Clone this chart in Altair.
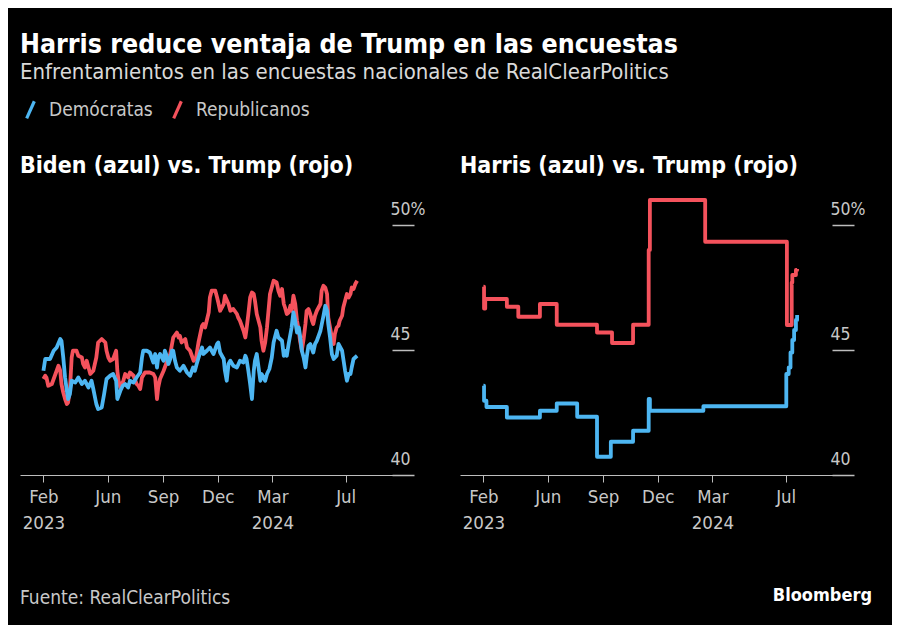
import altair as alt
import pandas as pd

FONT = "'DejaVu Sans Condensed', 'Liberation Sans Narrow', 'Roboto Condensed', sans-serif"
BLUE = "#4db6f2"
RED = "#f4525c"
TXT = "#c8c8c8"

title_text = "Harris reduce ventaja de Trump en las encuestas"
subtitle_text = "Enfrentamientos en las encuestas nacionales de RealClearPolitics"
panel_titles = ["Biden (azul) vs. Trump (rojo)", "Harris (azul) vs. Trump (rojo)"]
parties = ["Demócratas", "Republicanos"]
source_text = "Fuente: RealClearPolitics"
brand_text = "Bloomberg"

# ---- Biden vs Trump (RCP average) ----
biden_dates = ["2023-02-14", "2023-02-17", "2023-02-25", "2023-03-03", "2023-03-08", "2023-03-14", "2023-03-16",
               "2023-03-19", "2023-03-22", "2023-03-25", "2023-03-27", "2023-03-30", "2023-04-02", "2023-04-08",
               "2023-04-13", "2023-04-19", "2023-04-24", "2023-04-30", "2023-05-05", "2023-05-08", "2023-05-13",
               "2023-05-16", "2023-05-22", "2023-05-26", "2023-05-30", "2023-06-05", "2023-06-10", "2023-06-15",
               "2023-06-17", "2023-06-22", "2023-06-26", "2023-06-30", "2023-07-05", "2023-07-08", "2023-07-14",
               "2023-07-19", "2023-07-25", "2023-07-28", "2023-07-30", "2023-08-05", "2023-08-10", "2023-08-16",
               "2023-08-19", "2023-08-22", "2023-08-24", "2023-08-27", "2023-09-02", "2023-09-04", "2023-09-07",
               "2023-09-10", "2023-09-13", "2023-09-16", "2023-09-18", "2023-09-21", "2023-09-24", "2023-09-29",
               "2023-10-05", "2023-10-11", "2023-10-16", "2023-10-21", "2023-10-24", "2023-10-27", "2023-11-01",
               "2023-11-05", "2023-11-07", "2023-11-13", "2023-11-18", "2023-11-24", "2023-11-30", "2023-12-02",
               "2023-12-05", "2023-12-11", "2023-12-13", "2023-12-16", "2023-12-19", "2023-12-22", "2023-12-27",
               "2024-01-02", "2024-01-07", "2024-01-13", "2024-01-16", "2024-01-18", "2024-01-21", "2024-01-24",
               "2024-01-27", "2024-01-30", "2024-02-01", "2024-02-04", "2024-02-07", "2024-02-10", "2024-02-12",
               "2024-02-18", "2024-02-21", "2024-02-25", "2024-02-29", "2024-03-03", "2024-03-08", "2024-03-11",
               "2024-03-17", "2024-03-20", "2024-03-22", "2024-03-25", "2024-03-28", "2024-03-31", "2024-04-02",
               "2024-04-05", "2024-04-08", "2024-04-11", "2024-04-14", "2024-04-16", "2024-04-19", "2024-04-22",
               "2024-04-25", "2024-04-27", "2024-04-30", "2024-05-03", "2024-05-08", "2024-05-11", "2024-05-14",
               "2024-05-20", "2024-05-25", "2024-05-28", "2024-05-31", "2024-06-02", "2024-06-05", "2024-06-08",
               "2024-06-11", "2024-06-16", "2024-06-19", "2024-06-25", "2024-06-30", "2024-07-03", "2024-07-06",
               "2024-07-09", "2024-07-11", "2024-07-14", "2024-07-20"]
biden_values = [44.17, 44.64, 44.64, 44.97, 45.10, 45.44, 45.37, 44.70, 43.90, 43.37, 43.04, 43.24, 43.77, 43.70,
                43.90, 43.64, 43.77, 43.50, 43.77, 43.44, 42.84, 42.64, 42.70, 43.24, 43.84, 43.97, 44.04, 43.77,
                43.04, 43.37, 43.57, 43.64, 43.50, 43.77, 43.70, 43.90, 44.10, 44.70, 44.97, 44.97, 44.90, 44.50,
                44.84, 44.30, 44.70, 44.84, 44.57, 44.97, 44.77, 44.44, 44.64, 44.97, 44.97, 44.57, 44.30, 44.17,
                44.37, 44.10, 43.97, 44.30, 44.17, 44.44, 44.84, 45.10, 44.84, 44.97, 45.10, 44.84, 45.24, 45.30,
                44.90, 44.64, 44.17, 43.77, 44.44, 44.57, 44.37, 44.30, 44.57, 44.50, 44.77, 44.64, 44.17, 43.64,
                43.04, 44.17, 44.57, 44.84, 44.30, 43.77, 44.04, 43.77, 44.04, 44.24, 44.70, 45.30, 45.77, 45.50,
                45.37, 44.77, 44.97, 44.77, 45.24, 45.64, 45.90, 46.50, 46.17, 45.70, 45.90, 45.57, 44.97, 44.70,
                44.30, 44.70, 45.17, 45.24, 44.90, 45.24, 45.37, 45.77, 46.37, 46.77, 46.57, 46.04, 45.50, 44.84,
                44.64, 44.77, 45.24, 44.97, 44.17, 43.77, 44.04, 44.04, 44.30, 44.64, 44.77]

trump_b_dates = ["2023-02-14", "2023-02-17", "2023-02-19", "2023-02-22", "2023-02-28", "2023-03-03", "2023-03-08",
                 "2023-03-11", "2023-03-14", "2023-03-16", "2023-03-19", "2023-03-22", "2023-03-25", "2023-03-27",
                 "2023-03-30", "2023-04-02", "2023-04-04", "2023-04-10", "2023-04-13", "2023-04-19", "2023-04-21",
                 "2023-04-24", "2023-04-27", "2023-04-30", "2023-05-03", "2023-05-08", "2023-05-13", "2023-05-16",
                 "2023-05-22", "2023-05-28", "2023-05-30", "2023-06-02", "2023-06-05", "2023-06-10", "2023-06-15",
                 "2023-06-17", "2023-06-19", "2023-06-22", "2023-06-27", "2023-06-30", "2023-07-05", "2023-07-08",
                 "2023-07-14", "2023-07-19", "2023-07-22", "2023-07-25", "2023-07-28", "2023-08-02", "2023-08-10",
                 "2023-08-16", "2023-08-19", "2023-08-22", "2023-08-24", "2023-08-27", "2023-09-02", "2023-09-07",
                 "2023-09-13", "2023-09-16", "2023-09-18", "2023-09-24", "2023-09-27", "2023-09-29", "2023-10-02",
                 "2023-10-08", "2023-10-11", "2023-10-16", "2023-10-22", "2023-10-26", "2023-10-30", "2023-11-02",
                 "2023-11-05", "2023-11-07", "2023-11-10", "2023-11-16", "2023-11-18", "2023-11-21", "2023-11-27",
                 "2023-11-30", "2023-12-02", "2023-12-05", "2023-12-11", "2023-12-13", "2023-12-19", "2023-12-22",
                 "2023-12-27", "2024-01-02", "2024-01-04", "2024-01-07", "2024-01-13", "2024-01-16", "2024-01-18",
                 "2024-01-21", "2024-01-24", "2024-01-27", "2024-01-30", "2024-02-01", "2024-02-04", "2024-02-10",
                 "2024-02-12", "2024-02-15", "2024-02-18", "2024-02-21", "2024-02-24", "2024-02-26", "2024-02-29",
                 "2024-03-03", "2024-03-08", "2024-03-11", "2024-03-14", "2024-03-17", "2024-03-20", "2024-03-22",
                 "2024-03-25", "2024-03-28", "2024-03-31", "2024-04-02", "2024-04-05", "2024-04-08", "2024-04-11",
                 "2024-04-14", "2024-04-16", "2024-04-19", "2024-04-22", "2024-04-25", "2024-04-27", "2024-04-30",
                 "2024-05-03", "2024-05-06", "2024-05-08", "2024-05-11", "2024-05-14", "2024-05-20", "2024-05-22",
                 "2024-05-25", "2024-05-28", "2024-05-31", "2024-06-02", "2024-06-05", "2024-06-08", "2024-06-11",
                 "2024-06-13", "2024-06-16", "2024-06-19", "2024-06-21", "2024-06-25", "2024-06-27", "2024-06-30",
                 "2024-07-03", "2024-07-06", "2024-07-09", "2024-07-11", "2024-07-14", "2024-07-17", "2024-07-20"]
trump_b_values = [43.84, 43.97, 43.90, 43.57, 43.64, 43.84, 44.17, 44.37, 44.17, 43.64, 43.30, 43.04, 42.84, 42.90,
                  43.37, 44.70, 44.97, 44.97, 44.77, 44.70, 44.44, 44.30, 44.57, 44.30, 44.04, 44.17, 44.70, 45.30,
                  45.44, 45.30, 44.97, 44.70, 44.57, 44.64, 44.97, 44.17, 43.77, 43.50, 43.77, 44.04, 43.90, 44.10,
                  43.97, 43.64, 43.57, 43.44, 43.90, 44.10, 44.10, 44.04, 43.90, 43.04, 43.50, 43.84, 44.17, 44.50,
                  44.84, 45.24, 45.50, 45.70, 45.50, 45.57, 45.30, 45.44, 45.10, 44.97, 44.57, 44.70, 45.30, 45.64,
                  45.97, 46.04, 45.90, 46.50, 47.10, 47.37, 47.37, 47.10, 46.90, 46.57, 46.84, 47.17, 46.84, 46.57,
                  46.64, 46.44, 46.30, 46.17, 45.77, 45.50, 45.84, 46.44, 47.10, 47.30, 47.24, 46.97, 46.44, 45.90,
                  45.37, 44.97, 45.30, 45.90, 46.70, 47.24, 47.50, 47.77, 47.70, 47.37, 47.17, 47.44, 46.84, 46.70,
                  46.44, 46.50, 46.77, 46.57, 47.17, 46.84, 46.17, 45.77, 45.37, 44.97, 45.44, 46.04, 46.57, 46.64,
                  46.44, 46.17, 46.04, 46.37, 46.57, 46.84, 47.37, 47.57, 47.50, 47.24, 46.30, 45.90, 45.50, 45.24,
                  45.64, 45.90, 45.97, 46.17, 46.37, 46.70, 46.97, 47.24, 47.10, 47.24, 47.50, 47.44, 47.64, 47.77]

# ---- Harris vs Trump (step series) ----
harris_dates = ["2023-02-14", "2023-02-15", "2023-02-19", "2023-03-25", "2023-05-19", "2023-06-16", "2023-07-20",
                "2023-08-22", "2023-09-14", "2023-10-21", "2023-11-16", "2023-11-18", "2024-02-15", "2024-07-02",
                "2024-07-06", "2024-07-09", "2024-07-12", "2024-07-15", "2024-07-18", "2024-07-20"]
harris_values = [43.57, 42.97, 42.72, 42.30, 42.57, 42.86, 42.33, 40.73, 41.33, 41.77, 43.04, 42.57, 42.75, 44.04,
                 44.30, 44.90, 45.40, 45.80, 46.20, 46.40]
trump_h_dates = ["2023-02-14", "2023-02-15", "2023-02-17", "2023-03-25", "2023-04-13", "2023-05-19", "2023-06-16",
                 "2023-08-22", "2023-09-16", "2023-10-21", "2023-11-16", "2023-11-18", "2024-02-18", "2024-07-03",
                 "2024-07-11", "2024-07-12", "2024-07-18", "2024-07-20"]
trump_h_values = [47.53, 46.66, 47.04, 46.73, 46.33, 46.84, 46.01, 45.70, 45.28, 46.01, 49.00, 51.00, 49.33, 46.00,
                  47.70, 48.00, 48.20, 48.24]

x_start = alt.DateTime(year=2023, month=1, date=6, utc=True)
x_end = alt.DateTime(year=2024, month=10, date=21, utc=True)
x_ticks = [alt.DateTime(year=2023, month=2, date=14, utc=True),
           alt.DateTime(year=2023, month=6, date=1, utc=True),
           alt.DateTime(year=2023, month=9, date=1, utc=True),
           alt.DateTime(year=2023, month=12, date=1, utc=True),
           alt.DateTime(year=2024, month=3, date=1, utc=True),
           alt.DateTime(year=2024, month=7, date=1, utc=True)]
y_ticks = [40, 45, 50]

W, H = 393, 285

def frame(dates, values, party):
    return pd.DataFrame({"fecha": dates, "valor": values, "partido": party})

x_enc = alt.X("fecha:T",
              scale=alt.Scale(type="utc", domain=[x_start, x_end], nice=False),
              axis=alt.Axis(values=x_ticks, title=None, grid=False,
                            labelExpr="(utcmonth(datum.value) == 1 || utcmonth(datum.value) == 2) ? "
                                      "[utcFormat(datum.value, '%b'), utcFormat(datum.value, '%Y')] : "
                                      "utcFormat(datum.value, '%b')",
                            domainColor="#bdbdbd", tickColor="#bdbdbd", tickSize=7,
                            labelColor=TXT, labelFontSize=18.5, labelPadding=5,
                            labelFlush=False, labelLineHeight=26, labelFont=FONT))
y_enc = alt.Y("valor:Q",
              scale=alt.Scale(domain=[40, 51.4], nice=False, zero=False),
              axis=alt.Axis(orient="right", values=y_ticks, title=None, grid=False, domain=False,
                            offset=-21, tickSize=22, tickColor="#bdbdbd", tickWidth=1.5,
                            labelAlign="left", labelPadding=-24, labelBaseline="alphabetic",
                            labelOffset=-11, labelColor=TXT, labelFontSize=17.5, labelFont=FONT,
                            labelExpr="datum.value == 50 ? '50%' : datum.label"))
color_enc = alt.Color("partido:N",
                      scale=alt.Scale(domain=parties, range=[BLUE, RED]),
                      legend=alt.Legend(title=None, orient="top", direction="horizontal", offset=30,
                                        symbolType="M-0.45,1L0.45,-1", symbolSize=290,
                                        symbolStrokeWidth=3.2, labelFontSize=19, labelColor=TXT,
                                        labelFont=FONT, columnPadding=14, labelOffset=8))

def panel(dem, rep, interp, title, extra):
    red_line = alt.Chart(rep).mark_line(strokeWidth=3.8, interpolate=interp, strokeJoin="round").encode(
        x=x_enc, y=y_enc, color=color_enc)
    blue_line = alt.Chart(dem).mark_line(strokeWidth=3.8, interpolate=interp, strokeJoin="round").encode(
        x=x_enc, y=y_enc, color=color_enc)
    return alt.layer(red_line, blue_line, extra).properties(
        width=W, height=H,
        title=alt.TitleParams(title, anchor="start", fontSize=23, fontWeight="bold", color="white",
                              font=FONT, offset=12))

src = alt.Chart(pd.DataFrame({"t": [source_text]})).mark_text(
    align="left", baseline="middle", fontSize=19, color=TXT, font=FONT).encode(
    x=alt.value(0), y=alt.value(408), text="t:N")
brand = alt.Chart(pd.DataFrame({"t": [brand_text]})).mark_text(
    align="right", baseline="middle", fontSize=18, fontWeight="bold", color="white", font=FONT).encode(
    x=alt.value(412), y=alt.value(406), text="t:N")

left = panel(frame(biden_dates, biden_values, parties[0]), frame(trump_b_dates, trump_b_values, parties[1]),
             "linear", panel_titles[0], src)
right = panel(frame(harris_dates, harris_values, parties[0]), frame(trump_h_dates, trump_h_values, parties[1]),
              "step-after", panel_titles[1], brand)

chart = alt.hconcat(left, right, spacing=47, bounds="flush").properties(
    title=alt.TitleParams(title_text, subtitle=subtitle_text, anchor="start", fontSize=26.5, fontWeight="bold",
                          color="white", font=FONT, subtitleFont=FONT, subtitleFontSize=22,
                          subtitleColor="#d9d9d9", subtitlePadding=4, offset=16)
).configure(
    background="#000000", padding={"left": 12, "top": 23, "right": 20, "bottom": 27}, font=FONT
).configure_view(stroke=None)

chart.save("out.html", embed_options={"renderer": "svg", "actions": False})
